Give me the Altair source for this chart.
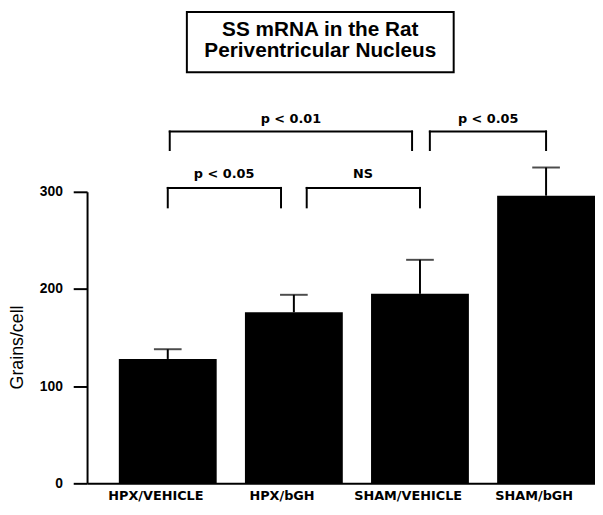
import altair as alt
import pandas as pd

# ---- data ----
categories = ["HPX/VEHICLE", "HPX/bGH", "SHAM/VEHICLE", "SHAM/bGH"]
means = [128, 176, 195, 296]
err_upper = [138, 194, 230, 325]

y_ticks = [0, 100, 200, 300]
title_lines = ["SS mRNA in the Rat", "Periventricular Nucleus"]
y_title = "Grains/cell"

br_labels = ["p < 0.01", "p < 0.05", "p < 0.05", "NS"]
br_left = ["HPX/VEHICLE", "SHAM/VEHICLE", "HPX/VEHICLE", "HPX/bGH"]
br_right = ["SHAM/VEHICLE", "SHAM/bGH", "HPX/bGH", "SHAM/VEHICLE"]
br_top = [362, 362, 304, 304]
br_foot = [343, 343, 284, 284]
br_text_y = [375, 375, 318, 318]
br_text_anchor = ["HPX/bGH", "SHAM/VEHICLE", "HPX/VEHICLE", "HPX/bGH"]

# ---- styling (pixel offsets only) ----
br_left_off = [2, 10, 0, 13]
br_right_off = [-8, 0, -13, 0]
br_text_dx = [-3, 69, 57, 70]

BOLD = "DejaVu Sans"
ARIAL = "Liberation Sans"

bars_df = pd.DataFrame({"cat": categories, "mean": means, "upper": err_upper})
br_df = pd.DataFrame({
    "label": br_labels, "left": br_left, "right": br_right,
    "top": br_top, "foot": br_foot, "ty": br_text_y, "anchor": br_text_anchor,
})

xscale = alt.Scale(domain=categories, paddingInner=0.224, paddingOuter=0.126, align=1)
xaxis = alt.Axis(
    title=None, labelAngle=0, ticks=False, domain=True,
    labelFont=BOLD, labelFontWeight="bold", labelFontSize=13, labelColor="black",
    labelPadding=6, labelOffset=-12,
)
yscale = alt.Scale(domain=[0, 300], nice=False, zero=True)
yaxis = alt.Axis(
    title=y_title, values=y_ticks, grid=False, domain=True, ticks=True,
    tickSize=14, labelPadding=11,
    labelFont=ARIAL, labelFontWeight="bold", labelFontSize=14, labelColor="black",
    titleFont=ARIAL, titleFontWeight="normal", titleFontSize=18, titleColor="black",
    titlePadding=13, titleY=157,
)


def X(field):
    return alt.X(field, type="nominal", scale=xscale, axis=xaxis, title=None)


def Y(field):
    return alt.Y(field, type="quantitative", scale=yscale, axis=yaxis, title=y_title)


bars = alt.Chart(bars_df).mark_bar(color="black").encode(x=X("cat"), y=Y("mean"))
stems = alt.Chart(bars_df).mark_rule(color="black", strokeWidth=2).encode(
    x=X("cat"), y=Y("mean"), y2="upper")
caps = alt.Chart(bars_df).mark_tick(color="black", size=28, thickness=2).encode(
    x=X("cat"), y=Y("upper"))

layers = [bars, stems, caps]

for i in range(len(br_labels)):
    d = br_df.iloc[[i]]
    lo, ro = br_left_off[i], br_right_off[i]
    layers.append(alt.Chart(d).mark_rule(
        color="black", strokeWidth=2, strokeCap="square", xOffset=lo, x2Offset=ro
    ).encode(x=X("left"), x2="right", y=Y("top")))
    layers.append(alt.Chart(d).mark_rule(
        color="black", strokeWidth=2, strokeCap="square", xOffset=lo
    ).encode(x=X("left"), y=Y("top"), y2="foot"))
    layers.append(alt.Chart(d).mark_rule(
        color="black", strokeWidth=2, strokeCap="square", xOffset=ro
    ).encode(x=X("right"), y=Y("top"), y2="foot"))
    layers.append(alt.Chart(d).mark_text(
        font=BOLD, fontWeight="bold", fontSize=13, color="black",
        baseline="middle", align="center", dx=br_text_dx[i]
    ).encode(x=X("anchor"), y=Y("ty"), text="label"))

# Title frame and lines
one = alt.Data(values=[{}])
layers.append(alt.Chart(one).mark_rect(
    filled=False, stroke="black", strokeWidth=2
).encode(x=alt.value(101), x2=alt.value(371), y=alt.value(-182), y2=alt.value(-121)))
title_y = [-164, -142]
for line, ty in zip(title_lines, title_y):
    layers.append(alt.Chart(one).mark_text(
        font=ARIAL, fontWeight="bold", fontSize=21, color="black",
        baseline="middle", align="center"
    ).encode(x=alt.value(236), y=alt.value(ty), text=alt.value(line)))

chart = alt.layer(*layers).properties(
    width=514, height=295,
    padding={"left": 0, "top": 0, "right": 0, "bottom": 5},
).configure(
    background="white",
    view=alt.ViewConfig(stroke=None),
    axis=alt.AxisConfig(domainColor="black", domainWidth=2, tickColor="black",
                        tickWidth=2, domain=True),
    axisY=alt.AxisConfig(titleFont=ARIAL, titleFontSize=18, titleFontWeight="normal",
                         titleColor="black"),
)

chart.save("out.html", embed_options={"renderer": "svg", "actions": False})
